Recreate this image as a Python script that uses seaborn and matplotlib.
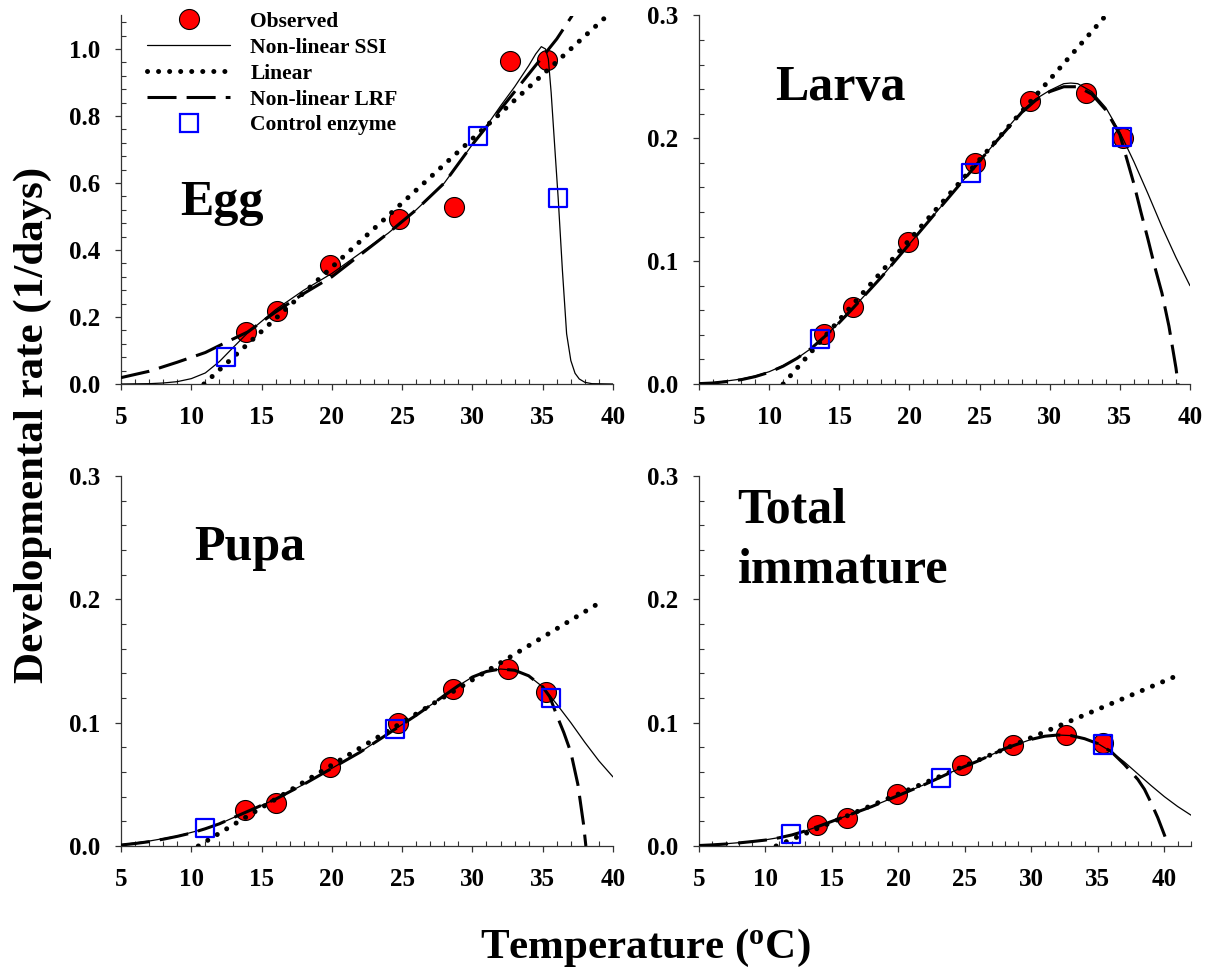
import numpy as np
import pandas as pd
import matplotlib
matplotlib.use("Agg")
import matplotlib.pyplot as plt
import seaborn as sns
from matplotlib.ticker import MultipleLocator, FormatStrFormatter
from matplotlib.lines import Line2D

# ---------------- data ----------------
# Egg
egg_obs_T = [13.9, 16.1, 19.9, 24.8, 28.7, 32.7, 35.3]
egg_obs_r = [0.154, 0.219, 0.355, 0.493, 0.527, 0.964, 0.967]
egg_ctl_T = [12.5, 30.4, 36.1]
egg_ctl_r = [0.082, 0.740, 0.556]
egg_lin_T = [10.9, 39.6]
egg_lin_r = [0.0, 1.10]
egg_ssi_T = [5, 7, 8, 9, 10, 11, 12, 13, 14, 16, 18, 20, 22, 24, 26, 28, 30, 31, 32, 33,
             34, 34.5, 34.9, 35.2, 35.4, 35.6, 35.9, 36.1, 36.4, 36.7, 37.0, 37.3, 37.6,
             38.0, 38.5, 40]
egg_ssi_r = [0.0, 0.001, 0.003, 0.007, 0.016, 0.033, 0.067, 0.11, 0.152, 0.222, 0.28, 0.33,
             0.39, 0.45, 0.52, 0.60, 0.715, 0.77, 0.83, 0.887, 0.95, 0.985, 1.007, 1.0, 0.97,
             0.87, 0.68, 0.555, 0.34, 0.15, 0.07, 0.032, 0.015, 0.005, 0.001, 0.0]
egg_lrf_T = [5, 7, 9, 11, 12.5, 14, 16, 18, 20, 22, 24, 26, 28, 30, 32, 34, 36, 37.1]
egg_lrf_r = [0.019, 0.038, 0.065, 0.094, 0.125, 0.155, 0.215, 0.27, 0.32, 0.385, 0.45,
             0.52, 0.60, 0.715, 0.82, 0.925, 1.03, 1.10]

# Larva
lar_obs_T = [13.9, 16.0, 19.9, 24.7, 28.6, 32.6, 35.2]
lar_obs_r = [0.041, 0.063, 0.116, 0.180, 0.230, 0.237, 0.2005]
lar_ctl_T = [13.6, 24.4, 35.15]
lar_ctl_r = [0.037, 0.172, 0.201]
lar_lin_T = [11.0, 34.0]
lar_lin_r = [0.0, 0.30]
lar_ssi_T = [5, 6, 7, 8, 9, 10, 11, 12, 13, 14, 15, 16, 18, 20, 22, 24, 26, 28, 29, 30, 31,
             31.5, 32, 33, 34, 35, 36, 37, 38, 39, 40]
lar_ssi_r = [0.0005, 0.001, 0.0025, 0.004, 0.0065, 0.01, 0.015, 0.021, 0.029, 0.039, 0.05,
             0.062, 0.087, 0.114, 0.141, 0.168, 0.195, 0.222, 0.232, 0.239, 0.2445, 0.245,
             0.2445, 0.238, 0.225, 0.205, 0.181, 0.155, 0.128, 0.103, 0.080]
lar_lrf_T = [5, 6, 7, 8, 9, 10, 11, 12, 13, 14, 15, 16, 18, 20, 22, 24, 26, 28, 29, 30, 31,
             32, 33, 34, 35, 36, 36.5, 37, 37.5, 38, 38.5, 39, 39.15]
lar_lrf_r = [0.0003, 0.0008, 0.002, 0.0035, 0.006, 0.0095, 0.0145, 0.021, 0.029, 0.039, 0.05,
             0.062, 0.087, 0.114, 0.141, 0.168, 0.195, 0.221, 0.231, 0.238, 0.242, 0.242,
             0.236, 0.223, 0.203, 0.163, 0.14, 0.118, 0.095, 0.074, 0.047, 0.013, 0.0]

# Pupa
pup_obs_T = [13.8, 16.0, 19.9, 24.7, 28.6, 32.5, 35.2]
pup_obs_r = [0.029, 0.035, 0.064, 0.0995, 0.127, 0.1435, 0.125]
pup_ctl_T = [11.0, 24.5, 35.6]
pup_ctl_r = [0.0146, 0.095, 0.120]
pup_lin_T = [10.5, 39.3]
pup_lin_r = [0.0, 0.199]
pup_ssi_T = [5, 6, 7, 8, 9, 10, 11, 12, 13, 14, 15, 16, 18, 20, 22, 24, 26, 28, 29, 30, 31,
             32, 33, 34, 35, 36, 37, 38, 39, 40]
pup_ssi_r = [0.001, 0.0025, 0.004, 0.006, 0.008, 0.011, 0.014, 0.018, 0.023, 0.028, 0.033,
             0.038, 0.050, 0.063, 0.076, 0.091, 0.106, 0.122, 0.130, 0.137, 0.1415, 0.1435,
             0.1425, 0.138, 0.129, 0.115, 0.100, 0.084, 0.069, 0.056]
pup_lrf_T = [5, 6, 7, 8, 9, 10, 11, 12, 13, 14, 15, 16, 18, 20, 22, 24, 26, 28, 29, 30, 31,
             32, 33, 34, 35, 35.5, 36, 36.5, 37, 37.5, 37.9, 38.07]
pup_lrf_r = [0.0008, 0.002, 0.0035, 0.0055, 0.0078, 0.0105, 0.014, 0.018, 0.023, 0.028,
             0.033, 0.038, 0.050, 0.063, 0.076, 0.091, 0.106, 0.122, 0.130, 0.137, 0.1415,
             0.1435, 0.1425, 0.138, 0.129, 0.121, 0.106, 0.092, 0.076, 0.050, 0.018, 0.0]

# Total immature
tot_obs_T = [13.9, 16.1, 19.9, 24.75, 28.6, 32.6, 35.4]
tot_obs_r = [0.0168, 0.023, 0.042, 0.0658, 0.082, 0.090, 0.0834]
tot_ctl_T = [11.9, 23.2, 35.4]
tot_ctl_r = [0.0097, 0.0555, 0.0823]
tot_lin_T = [10.8, 41.3]
tot_lin_r = [0.0, 0.1397]
tot_ssi_T = [5, 6, 7, 8, 9, 10, 11, 12, 13, 14, 15, 16, 18, 20, 22, 24, 26, 28, 30, 31, 32,
             33, 34, 35, 36, 37, 38, 39, 40, 41, 42]
tot_ssi_r = [0.0005, 0.001, 0.0018, 0.0027, 0.0038, 0.005, 0.0068, 0.009, 0.0122, 0.016,
             0.020, 0.024, 0.032, 0.041, 0.050, 0.060, 0.069, 0.079, 0.0865, 0.089, 0.090,
             0.0895, 0.087, 0.083, 0.0765, 0.068, 0.0585, 0.049, 0.040, 0.032, 0.025]
tot_lrf_T = [5, 6, 7, 8, 9, 10, 11, 12, 13, 14, 15, 16, 18, 20, 22, 24, 26, 28, 30, 31, 32,
             33, 34, 35, 36, 37, 37.5, 38, 38.5, 39, 39.5, 40, 40.3]
tot_lrf_r = [0.0004, 0.0009, 0.0016, 0.0025, 0.0036, 0.0048, 0.0066, 0.009, 0.0122, 0.016,
             0.020, 0.024, 0.032, 0.041, 0.050, 0.060, 0.069, 0.079, 0.0865, 0.089, 0.090,
             0.0895, 0.087, 0.083, 0.0765, 0.066, 0.060, 0.054, 0.046, 0.035, 0.023, 0.009, 0.0]

panel_names = ["Egg", "Larva", "Pupa", "Total\nimmature"]
x_ticks = [5, 10, 15, 20, 25, 30, 35, 40]
y_label = "Developmental rate (1/days)"
x_label = r"Temperature ($^{\mathbf{o}}$C)"
legend_labels = ["Observed", "Non-linear SSI", "Linear", "Non-linear LRF", "Control enzyme"]

# ---------------- style ----------------
sns.set_style("ticks")
plt.rcParams["font.family"] = ["Liberation Serif", "DejaVu Serif"]
plt.rcParams["font.weight"] = "bold"
plt.rcParams["text.color"] = "black"
plt.rcParams["axes.labelcolor"] = "black"
plt.rcParams["xtick.color"] = "black"
plt.rcParams["ytick.color"] = "black"
plt.rcParams["mathtext.fontset"] = "custom"
plt.rcParams["mathtext.rm"] = "Liberation Serif:bold"
plt.rcParams["mathtext.bf"] = "Liberation Serif:bold"
plt.rcParams["mathtext.it"] = "Liberation Serif:bold:italic"

RED = "#ff0000"
BLUE = "#0000ff"
SSI_KW = dict(color="black", lw=0.9, linestyle="-")
LIN_KW = dict(color="black", lw=3.6, linestyle=(0, (0.01, 2.2)), dash_capstyle="round")
LRF_KW = dict(color="black", lw=2.2, linestyle=(0, (9.5, 3.3)))

fig = plt.figure(figsize=(12.14, 9.69), dpi=100)
W, H = 1214.0, 969.0
boxes = [
    (121, 613, 15.5, 384),   # egg
    (699, 1190, 15.5, 384),  # larva
    (121, 613, 476, 846),    # pupa
    (699, 1191, 476, 846),   # total
]
panels = [
    dict(obs=(egg_obs_T, egg_obs_r), ctl=(egg_ctl_T, egg_ctl_r), lin=(egg_lin_T, egg_lin_r),
         ssi=(egg_ssi_T, egg_ssi_r), lrf=(egg_lrf_T, egg_lrf_r), xlim=(5, 40), ylim=(0, 1.1),
         ymaj=0.2, ymin=0.04, lab=[(panel_names[0], 0.12, 0.459)]),
    dict(obs=(lar_obs_T, lar_obs_r), ctl=(lar_ctl_T, lar_ctl_r), lin=(lar_lin_T, lar_lin_r),
         ssi=(lar_ssi_T, lar_ssi_r), lrf=(lar_lrf_T, lar_lrf_r), xlim=(5, 40), ylim=(0, 0.3),
         ymaj=0.1, ymin=0.02, lab=[(panel_names[1], 0.155, 0.77)]),
    dict(obs=(pup_obs_T, pup_obs_r), ctl=(pup_ctl_T, pup_ctl_r), lin=(pup_lin_T, pup_lin_r),
         ssi=(pup_ssi_T, pup_ssi_r), lrf=(pup_lrf_T, pup_lrf_r), xlim=(5, 40), ylim=(0, 0.3),
         ymaj=0.1, ymin=0.02, lab=[(panel_names[2], 0.148, 0.773)]),
    dict(obs=(tot_obs_T, tot_obs_r), ctl=(tot_ctl_T, tot_ctl_r), lin=(tot_lin_T, tot_lin_r),
         ssi=(tot_ssi_T, tot_ssi_r), lrf=(tot_lrf_T, tot_lrf_r), xlim=(5, 42), ylim=(0, 0.3),
         ymaj=0.1, ymin=0.02,
         lab=[(panel_names[3].split("\n")[0], 0.078, 0.873),
              (panel_names[3].split("\n")[1], 0.078, 0.711)]),
]

axes = []
for (l, r, t, b), p in zip(boxes, panels):
    ax = fig.add_axes([l / W, (H - b) / H, (r - l) / W, (b - t) / H])
    axes.append(ax)
    sns.scatterplot(x=p["obs"][0], y=p["obs"][1], ax=ax, s=207, color=RED,
                    edgecolor="black", linewidth=0.8, zorder=2, legend=False, clip_on=False)
    sns.lineplot(x=p["lin"][0], y=p["lin"][1], ax=ax, estimator=None, sort=False,
                 legend=False, zorder=3, **LIN_KW)
    sns.lineplot(x=p["lrf"][0], y=p["lrf"][1], ax=ax, estimator=None, sort=False,
                 legend=False, zorder=3, **LRF_KW)
    sns.lineplot(x=p["ssi"][0], y=p["ssi"][1], ax=ax, estimator=None, sort=False,
                 legend=False, zorder=3, **SSI_KW)
    sns.scatterplot(x=p["ctl"][0], y=p["ctl"][1], ax=ax, marker="s", s=169,
                    facecolor="none", edgecolor=BLUE, linewidth=1.6, zorder=4,
                    legend=False, clip_on=False)
    ax.set_xlim(*p["xlim"])
    ax.set_ylim(*p["ylim"])
    ax.set_xticks(x_ticks)
    ax.yaxis.set_major_locator(MultipleLocator(p["ymaj"]))
    ax.yaxis.set_minor_locator(MultipleLocator(p["ymin"]))
    ax.xaxis.set_minor_locator(MultipleLocator(1))
    ax.yaxis.set_major_formatter(FormatStrFormatter("%.1f"))
    ax.set_xlabel("")
    ax.set_ylabel("")
    for side in ("top", "right"):
        ax.spines[side].set_visible(False)
    for side in ("left", "bottom"):
        ax.spines[side].set_color("#333333")
        ax.spines[side].set_linewidth(0.9)
    ax.tick_params(which="major", direction="out", length=4, width=0.9, color="#333333",
                   labelcolor="black", labelsize=18)
    ax.tick_params(axis="x", which="major", pad=11.5)
    ax.tick_params(axis="y", which="major", pad=11)
    ax.tick_params(which="minor", direction="in", length=3.5, width=0.8, color="#333333")
    for lbl in ax.get_xticklabels() + ax.get_yticklabels():
        lbl.set_fontweight("bold")
    for txt, fx, fy in p["lab"]:
        ax.text(fx, fy, txt, transform=ax.transAxes, fontsize=36, fontweight="bold",
                color="black", ha="left", va="baseline")

# legend in the egg panel
handles = [
    Line2D([], [], linestyle="none", marker="o", markersize=14.4, markerfacecolor=RED,
           markeredgecolor="black", markeredgewidth=0.8),
    Line2D([], [], **SSI_KW),
    Line2D([], [], **LIN_KW),
    Line2D([], [], **LRF_KW),
    Line2D([], [], linestyle="none", marker="s", markersize=13, markerfacecolor="none",
           markeredgecolor=BLUE, markeredgewidth=1.6),
]
leg = axes[0].legend(handles, legend_labels, loc="upper left", bbox_to_anchor=(0.053, 1.010),
                     frameon=False, borderpad=0, borderaxespad=0, handlelength=3.86,
                     handletextpad=0.93, labelspacing=0.27,
                     prop={"size": 15.5, "weight": "bold"})
for t in leg.get_texts():
    t.set_color("black")

fig.text(43 / W, (H - 425) / H, y_label, rotation=90, rotation_mode="anchor",
         ha="center", va="baseline", fontsize=31, fontweight="bold", color="black")
fig.text(645 / W, (H - 958) / H, x_label, ha="center", va="baseline", fontsize=31,
         fontweight="bold", color="black")

fig.savefig("out.png", dpi=100)
